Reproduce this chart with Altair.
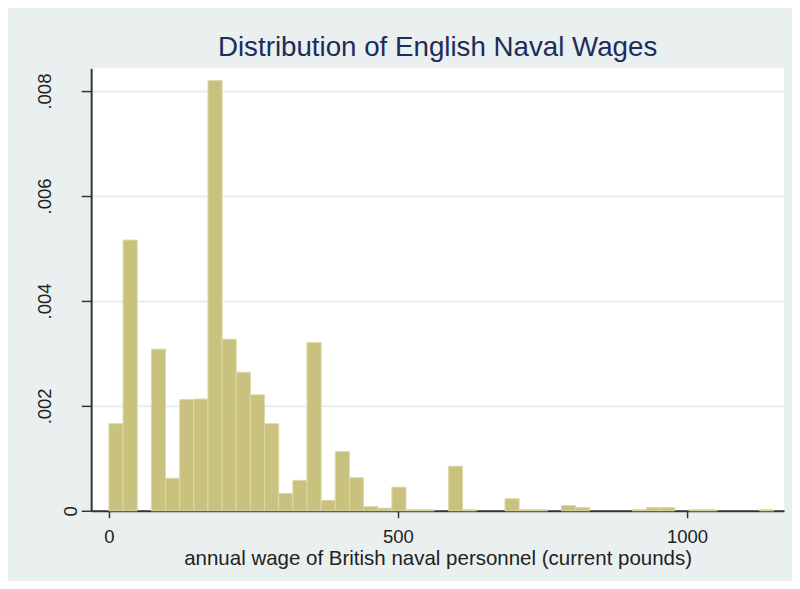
import altair as alt
import pandas as pd

# Histogram of annual wages (density), 47 bins of equal width starting at 0
bin_width = 24.47
density = [
    0.00166, 0.00516, 0.0, 0.00308, 0.00062, 0.00212, 0.00213, 0.00820,
    0.00327, 0.00264, 0.00221, 0.00166, 0.00033, 0.00058, 0.00321, 0.00020,
    0.00113, 0.00063, 0.00008, 0.00005, 0.00045, 0.00002, 0.00002, 0.0,
    0.00085, 0.00002, 0.0, 0.0, 0.00023, 0.00002, 0.00002, 0.0,
    0.00010, 0.00006, 0.0, 0.0, 0.0, 0.00002, 0.00006, 0.00006,
    0.0, 0.00002, 0.00002, 0.0, 0.0, 0.0, 0.00002,
]
x_ticks = [0, 500, 1000]
y_ticks = [0, 0.002, 0.004, 0.006, 0.008]

title_text = "Distribution of English Naval Wages"
x_title = "annual wage of British naval personnel (current pounds)"

df = pd.DataFrame({
    "start": [i * bin_width for i in range(len(density))],
    "end": [(i + 1) * bin_width for i in range(len(density))],
    "density": density,
})
df = df[df["density"] > 0]

FONT = "Liberation Sans"

bars = alt.Chart(df).mark_rect(
    fill="#C9C27E", stroke="#DDD9A6", strokeWidth=1
).encode(
    x=alt.X(
        "start:Q",
        scale=alt.Scale(domain=[-30.8, 1168], nice=False, zero=False),
        axis=alt.Axis(
            values=x_ticks, title=x_title, grid=False, format="d",
            domainColor="#333333", domainWidth=2,
            tickColor="#333333", tickSize=7, tickWidth=1.5,
            labelFont=FONT, labelFontSize=18.7, labelColor="#222222",
            labelPadding=10, titleFont=FONT, titleFontSize=20.7,
            titleFontWeight="normal", titleColor="#222222", titlePadding=3,
        ),
    ),
    x2="end:Q",
    y=alt.Y(
        "density:Q",
        scale=alt.Scale(domain=[0, 0.008434], nice=False),
        axis=alt.Axis(
            values=y_ticks, title=None, grid=True,
            gridColor="#E6EEEF", gridWidth=2,
            domainColor="#333333", domainWidth=2,
            tickColor="#333333", tickSize=10, tickWidth=1.5,
            labelFont=FONT, labelFontSize=18.7, labelColor="#222222",
            labelAngle=270, labelAlign="center", labelBaseline="bottom",
            labelPadding={"condition": {"test": "datum.value === 0", "value": 1}, "value": 27},
            labelExpr="datum.value == 0 ? '0' : replace(format(datum.value, '.3f'), '0.', '.')",
        ),
    ),
    y2=alt.value(447),
)

chart = bars.properties(
    width=700,
    height=447,
    title=alt.TitleParams(
        title_text, font=FONT, fontSize=28, fontWeight="normal",
        color="#1E2D57", anchor="middle", offset=6,
    ),
    background="#EAF0F0",
    padding={"left": 84, "top": 58, "right": 8, "bottom": 68},
    autosize=alt.AutoSizeParams(type="none"),
).configure_view(fill="white", stroke=None)

chart.save("out.html", embed_options={"renderer": "svg", "actions": False})
